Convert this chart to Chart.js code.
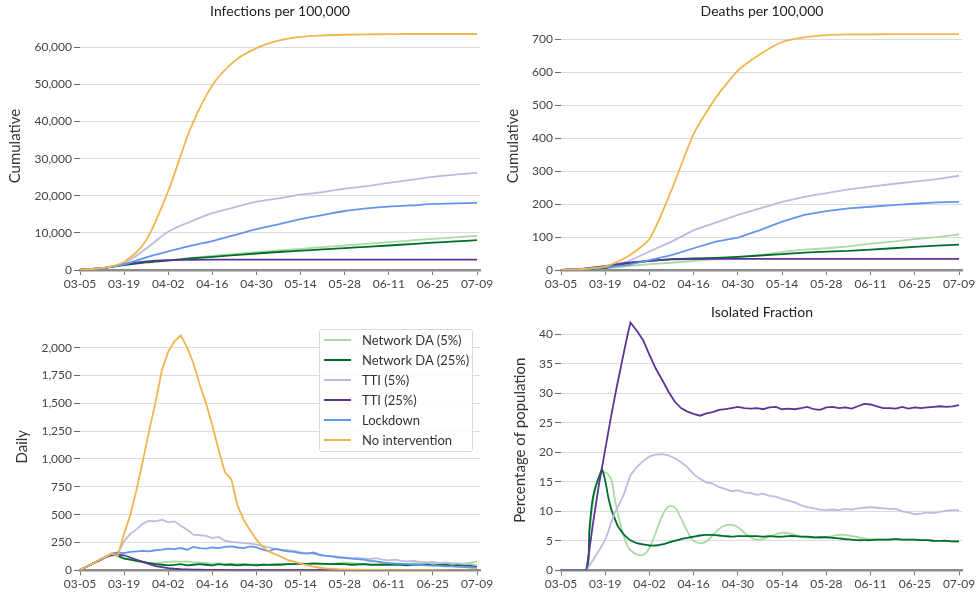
<!DOCTYPE html>
<html>
<head>
<meta charset="utf-8">
<script src="https://cdn.jsdelivr.net/npm/chart.js@4.4.1/dist/chart.umd.min.js"></script>
<style>
  body { margin: 0; background: #fff; font-family: Lato, sans-serif; }
  #wrap { position: relative; width: 977px; height: 596px; overflow: hidden; }
  canvas { position: absolute; }
  .ttl { position: absolute; font-size: 14px; color: #222; transform: translate(-50%, -50%); white-space: nowrap; }
  #legend { position: absolute; left: 319px; top: 329px; width: 154px; height: 123px; box-sizing: border-box;
            border: 1px solid #d9d9d9; border-radius: 3px; background: rgba(255,255,255,0.85); }
  .row { position: absolute; left: 0; height: 20px; line-height: 20px; font-size: 13px; color: #333; }
  .sw { position: absolute; left: 4px; top: 9px; width: 27px; height: 2px; }
  .lbl { position: absolute; left: 42px; white-space: nowrap; }
</style>
</head>
<body>
<div id="wrap">
  <canvas id="cInf" width="500" height="298" style="left:0;top:0"></canvas>
  <canvas id="cDeath" width="487" height="298" style="left:490px;top:0"></canvas>
  <canvas id="cDaily" width="500" height="298" style="left:0;top:298px"></canvas>
  <canvas id="cIso" width="487" height="298" style="left:490px;top:298px"></canvas>
  <div class="ttl" style="left:280px;top:10px">Infections per 100,000</div>
  <div class="ttl" style="left:762px;top:10px">Deaths per 100,000</div>
  <div class="ttl" style="left:762px;top:311px">Isolated Fraction</div>
  <div id="legend"></div>
</div>
<script>
// ── shared axis / series info ──
const tickDays = [0,14,28,42,56,70,84,98,112,126];
const tickLabels = ['03-05','03-19','04-02','04-16','04-30','05-14','05-28','06-11','06-25','07-09'];
const seriesNames = ['Network DA (5%)','Network DA (25%)','TTI (5%)','TTI (25%)','Lockdown','No intervention'];
const seriesColors = ['#a9dca1','#006d2c','#bcbbde','#5a3597','#6495ed','#f0b54d'];

// y tick values of each panel
const infTicks = [0,10000,20000,30000,40000,50000,60000];
const deathTicks = [0,100,200,300,400,500,600,700];
const dailyTicks = [0,250,500,750,1000,1250,1500,1750,2000];
const isoTicks = [0,5,10,15,20,25,30,35,40];

// weekly samples (days since 03-05) for the cumulative panels
const weekDays = [0,7,14,21,28,35,42,49,56,63,70,77,84,91,98,105,112,119,126];

// Infections per 100,000 (cumulative)
const infNdaLow   = [100,500,1400,2100,2650,3250,3800,4300,4800,5250,5700,6150,6600,7050,7500,7950,8400,8800,9200];
const infNdaHigh  = [100,500,1350,2050,2550,3100,3550,4000,4450,4850,5200,5550,5900,6250,6600,7000,7350,7700,8050];
const infTtiLow   = [100,500,1800,5800,10300,13000,15300,16900,18400,19300,20300,21000,21900,22600,23500,24300,25100,25700,26200];
const infTtiHigh  = [100,500,1500,2300,2650,2750,2800,2800,2800,2800,2800,2800,2800,2800,2800,2800,2800,2800,2800];
const infLockdown = [100,500,1500,3400,5000,6500,7800,9400,11000,12300,13700,14800,15900,16600,17100,17400,17800,17950,18100];
const infNone     = [100,550,2200,8000,21300,38000,49800,56300,59800,61800,62800,63200,63400,63500,63550,63600,63600,63600,63600];

// Deaths per 100,000 (cumulative)
const deathNdaLow   = [0,2,5,12,18,22,28,33,39,45,55,62,66,72,80,86,94,100,108];
const deathNdaHigh  = [0,2,6,20,28,33,35,37,40,44,48,53,56,58,62,66,70,74,77];
const deathTtiLow   = [0,3,12,25,56,86,121,144,167,187,207,222,233,245,253,261,268,276,286];
const deathTtiHigh  = [0,4,12,22,28,32,33,34,34,34,34,34,34,34,34,34,34,34,34];
const deathLockdown = [0,2,8,15,30,45,66,86,98,121,147,167,179,187,192,197,201,205,207];
const deathNone     = [0,3,10,40,94,243,413,523,605,655,692,706,713,715,715,716,716,716,716];

// Daily infections, every second day
const dailyDays = [0,2,4,6,8,10,12,14,16,18,20,22,24,26,28,30,
                   32,34,36,38,40,42,44,46,48,50,52,54,56,58,60,62,
                   64,66,68,70,72,74,76,78,80,82,84,86,88,90,92,94,
                   96,98,100,102,104,106,108,110,112,114,116,118,120,122,124,126];
const dailyNdaLow = [5,30,60,90,120,145,135,110,95,80,70,65,65,70,75,80,
                     78,80,72,70,65,60,62,58,55,58,55,52,55,50,52,55,
                     50,55,58,60,55,55,52,55,60,65,70,65,60,55,60,58,
                     55,60,65,60,58,62,65,60,62,58,60,65,62,60,68,80];
const dailyNdaHigh = [5,30,60,90,120,145,130,105,95,85,75,65,55,50,45,48,
                      55,45,50,55,50,45,55,48,52,45,50,48,45,50,48,50,
                      52,55,55,60,58,62,60,58,55,58,55,50,52,55,50,48,
                      50,52,48,50,45,50,48,52,45,48,50,45,48,42,40,38];
const dailyTtiLow = [5,30,60,90,120,150,150,260,330,370,420,445,440,455,430,440,
                     400,365,320,315,310,290,300,265,255,250,245,240,230,220,205,190,
                     185,180,175,160,155,150,135,130,125,120,115,110,110,105,100,110,
                     95,90,95,85,80,85,75,70,75,65,70,60,60,55,55,45];
const dailyTtiHigh = [5,30,60,85,115,135,140,135,115,95,75,55,38,28,20,14,
                      10,8,6,5,4,3,3,2,2,2,2,1,1,1,1,1,
                      1,1,1,1,1,1,1,1,1,1,1,1,1,1,1,1,
                      1,1,1,1,0,0,0,0,0,0,0,0,0,0,0,0];
const dailyLockdown = [5,30,60,90,120,150,160,155,165,170,175,170,180,185,195,190,
                       200,185,210,200,195,205,200,210,215,205,200,215,205,185,170,195,
                       180,170,165,155,150,160,140,130,125,115,112,105,100,95,85,80,
                       70,65,60,58,55,50,50,45,42,40,35,35,30,28,25,22];
const dailyNone = [5,30,60,90,120,150,130,330,500,730,990,1260,1515,1800,1965,2060,
                   2110,2000,1860,1670,1500,1300,1080,880,820,580,450,360,275,210,168,144,
                   120,92,77,59,47,32,23,17,14,10,8,6,5,4,4,3,
                   3,2,2,2,1,1,1,1,1,1,0,0,0,0,0,0];

// Isolated fraction (% of population); daily around the early peaks, then every second day
const isoDays = [0,8,9,10,11,12,13,14,15,16,17,18,19,20,21,22,
                 24,26,28,30,32,34,36,38,40,42,44,46,48,50,52,54,56,58,60,62,64,66,68,70,72,74,
                 76,78,80,82,84,86,88,90,92,94,96,98,100,102,104,106,108,110,112,114,116,118,120,122,124,126];
const isoNdaLow = [0,0,6,11,14,15.5,16.5,16.6,16.2,15.3,12.2,9.6,7.3,5.6,4.2,3.4,
                   2.7,2.6,3.8,6.4,9.2,10.8,10.7,8.8,6.6,5.0,4.6,4.9,5.9,7.0,7.6,7.7,7.3,6.4,5.6,5.2,5.3,5.7,6.1,6.4,6.3,6.0,
                   5.7,5.5,5.5,5.5,5.6,5.8,6.0,6.0,5.8,5.6,5.4,5.3,5.2,5.2,5.3,5.3,5.2,5.2,5.2,5.1,5.1,5.0,5.0,5.0,4.9,4.9];
const isoNdaHigh = [0,0,7,12,14.3,15.8,17.1,15.2,12.3,10.2,8.8,7.5,6.7,6.0,5.5,5.1,
                    4.6,4.4,4.2,4.2,4.4,4.7,5.0,5.3,5.5,5.7,5.9,6.0,6.0,5.9,5.8,5.7,5.8,5.8,5.8,5.8,5.7,5.8,5.7,5.7,5.8,5.8,
                    5.7,5.7,5.6,5.6,5.6,5.5,5.4,5.3,5.2,5.1,5.1,5.1,5.2,5.2,5.2,5.3,5.2,5.2,5.2,5.1,5.1,5.0,5.0,5.0,4.9,4.9];
const isoTtiLow = [0,0,0.8,1.6,2.5,3.3,4.2,5.2,6.6,8.3,9.7,10.8,11.8,13.0,14.6,16.1,
                   17.5,18.5,19.3,19.6,19.7,19.5,19.0,18.3,17.5,16.3,15.5,14.9,14.7,14.1,13.8,13.4,13.6,13.2,13.1,12.8,13.0,12.6,12.5,12.1,11.8,11.5,
                   11.0,10.7,10.5,10.3,10.2,10.3,10.2,10.4,10.3,10.5,10.6,10.7,10.6,10.5,10.4,10.4,10.0,9.8,9.5,9.6,9.8,9.7,9.9,10.1,10.2,10.2];
const isoTtiHigh = [0,0,3.5,7.5,11,14.5,17.5,20.5,23.5,26.5,29.3,32,34.6,37.2,39.7,42,
                    40.6,39.0,36.5,34.2,32.3,30.3,28.6,27.5,26.9,26.5,26.2,26.6,26.8,27.2,27.3,27.5,27.7,27.5,27.4,27.5,27.3,27.6,27.7,27.3,27.4,27.3,
                    27.5,27.7,27.3,27.2,27.6,27.7,27.5,27.6,27.4,27.8,28.2,28.1,27.8,27.5,27.5,27.4,27.7,27.4,27.6,27.5,27.6,27.7,27.8,27.7,27.8,28.0];

Chart.defaults.font.family = 'Lato, "DejaVu Sans", sans-serif';
Chart.defaults.color = '#444';

function ds(vals, days, i, tension) {
  return {
    label: seriesNames[i],
    data: vals.map((v, k) => ({ x: days[k], y: v })),
    borderColor: seriesColors[i], borderWidth: 1.8,
    pointRadius: 0, tension: tension, fill: false, order: 10 - i
  };
}

function scales(yMax, yTicks, yTitle, yWidth, yTitlePad, xHeight) {
  return {
    x: {
      type: 'linear', min: 0, max: 127,
      afterBuildTicks: s => { s.ticks = tickDays.map(v => ({ value: v })); },
      afterFit: s => { s.height = xHeight; s.paddingLeft = 0; s.paddingRight = 0; },
      ticks: { callback: v => tickLabels[tickDays.indexOf(v)], autoSkip: false, maxRotation: 0, padding: 2, color: '#444', font: { size: 12 } },
      grid: { drawOnChartArea: false, tickLength: 5, tickColor: '#777' },
      border: { display: true, color: '#8c8c8c', width: 2.5 }
    },
    y: {
      min: 0, max: yMax,
      afterBuildTicks: s => { s.ticks = yTicks.map(v => ({ value: v })); },
      afterFit: s => { s.width = yWidth; s.paddingTop = 0; s.paddingBottom = 0; },
      ticks: { autoSkip: false, padding: 2, color: '#444', font: { size: 12 },
               callback: v => v.toLocaleString('en-US') },
      grid: { color: '#dcdcdc', lineWidth: 1, tickLength: 6, tickColor: '#666' },
      border: { display: false },
      title: { display: true, text: yTitle, color: '#333', font: { size: 15 }, padding: { top: yTitlePad, bottom: 0 } }
    }
  };
}

function make(id, datasets, sc, pad) {
  new Chart(document.getElementById(id), {
    type: 'line',
    data: { datasets: datasets },
    options: {
      responsive: false, animation: false,
      layout: { padding: pad },
      plugins: { legend: { display: false }, tooltip: { enabled: false } },
      scales: sc
    }
  });
}

// Infections
make('cInf', [
  ds(infNdaLow, weekDays, 0, 0.4), ds(infNdaHigh, weekDays, 1, 0.4), ds(infTtiLow, weekDays, 2, 0.4),
  ds(infTtiHigh, weekDays, 3, 0.4), ds(infLockdown, weekDays, 4, 0.4), ds(infNone, weekDays, 5, 0.4)
].map(d => Object.assign(d, { cubicInterpolationMode: 'monotone' })),
  scales(66780, infTicks, 'Cumulative', 80, 6, 26), { top: 22.2, right: 19.8, bottom: 2, left: 0 });

// Deaths
make('cDeath', [
  ds(deathNdaLow, weekDays, 0, 0), ds(deathNdaHigh, weekDays, 1, 0), ds(deathTtiLow, weekDays, 2, 0),
  ds(deathTtiHigh, weekDays, 3, 0), ds(deathLockdown, weekDays, 4, 0), ds(deathNone, weekDays, 5, 0.2)
], scales(752, deathTicks, 'Cumulative', 71, 14.3, 26), { top: 22.2, right: 14.8, bottom: 2, left: 0 });

// Daily
make('cDaily', [
  ds(dailyNdaLow, dailyDays, 0, 0), ds(dailyNdaHigh, dailyDays, 1, 0), ds(dailyTtiLow, dailyDays, 2, 0),
  ds(dailyTtiHigh, dailyDays, 3, 0), ds(dailyLockdown, dailyDays, 4, 0), ds(dailyNone, dailyDays, 5, 0)
], scales(2221, dailyTicks, 'Daily', 80, 12.7, 25.7), { top: 25.1, right: 19.8, bottom: 0, left: 0 });

// Isolated fraction
make('cIso', [
  ds(isoNdaLow, isoDays, 0, 0.3), ds(isoNdaHigh, isoDays, 1, 0.2), ds(isoTtiLow, isoDays, 2, 0), ds(isoTtiHigh, isoDays, 3, 0)
], scales(44.1, isoTicks, 'Percentage of population', 71, 21, 25.7), { top: 12.1, right: 14.8, bottom: 0, left: 0 });

// legend (inside the daily panel)
const legend = document.getElementById('legend');
seriesNames.forEach((name, i) => {
  const row = document.createElement('div');
  row.className = 'row';
  row.style.top = (i * 20) + 'px';
  row.innerHTML = '<span class="sw" style="background:' + seriesColors[i] + '"></span><span class="lbl">' + name + '</span>';
  legend.appendChild(row);
});
</script>
</body>
</html>
